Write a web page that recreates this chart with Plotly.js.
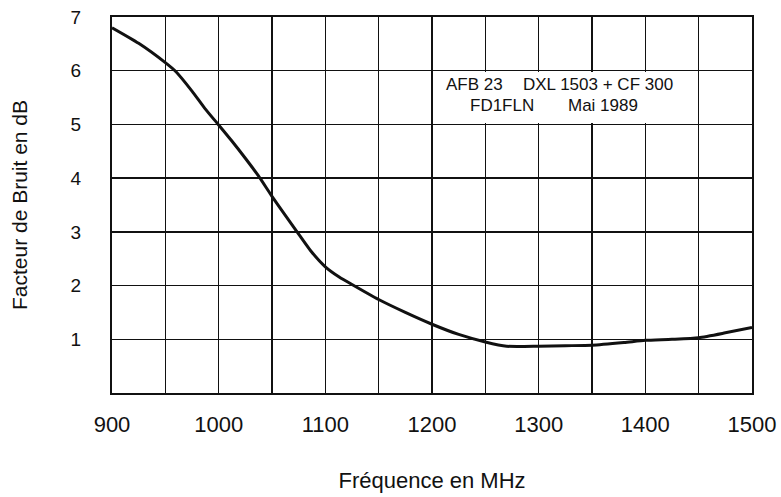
<!DOCTYPE html>
<html>
<head>
<meta charset="utf-8">
<script src="https://cdn.plot.ly/plotly-3.0.1.min.js"></script>
<style>html,body{margin:0;padding:0;background:#fff;}#chart{width:781px;height:497px;}</style>
</head>
<body>
<div id="chart"></div>
<script>
// Noise figure (dB) versus frequency (MHz)
const freqMHz = [900, 925, 950, 960, 975, 987, 1000, 1012, 1025, 1037, 1050, 1062, 1075, 1087, 1100, 1113, 1125, 1150, 1175, 1200, 1225, 1250, 1270, 1300, 1325, 1350, 1380, 1400, 1425, 1450, 1475, 1500];
const noiseFigureDb = [6.80, 6.51, 6.15, 5.98, 5.62, 5.30, 4.99, 4.70, 4.37, 4.05, 3.66, 3.32, 2.96, 2.63, 2.35, 2.16, 2.02, 1.74, 1.50, 1.28, 1.09, 0.95, 0.87, 0.87, 0.88, 0.89, 0.94, 0.98, 1.00, 1.03, 1.12, 1.22];

const xTickVals = [900, 1000, 1100, 1200, 1300, 1400, 1500];
const yTickVals = [1, 2, 3, 4, 5, 6, 7];

const xTitle = "Fréquence en MHz";
const yTitle = "Facteur de Bruit en dB";
const noteLine1a = "AFB 23";
const noteLine1b = "DXL 1503 + CF 300";
const noteLine2a = "FD1FLN";
const noteLine2b = "Mai 1989";

const FONT = "Liberation Sans, Arial, Helvetica, sans-serif";
const INK = "#111";

const trace = {
  x: freqMHz,
  y: noiseFigureDb,
  type: "scatter",
  mode: "lines",
  line: {color: INK, width: 3, shape: "spline", smoothing: 0.6},
  hoverinfo: "x+y",
  showlegend: false
};

const noteFont = {family: FONT, size: 17, color: INK};

const layout = {
  width: 781,
  height: 497,
  margin: {l: 112, r: 29, t: 17, b: 104},
  paper_bgcolor: "#fff",
  plot_bgcolor: "#fff",
  font: {family: FONT, color: INK},
  xaxis: {
    range: [900, 1500],
    tickvals: xTickVals,
    ticks: "",
    tickfont: {family: FONT, size: 22, color: INK},
    ticklabelstandoff: 11,
    showgrid: true,
    gridcolor: INK,
    gridwidth: 1.5,
    minor: {dtick: 50, showgrid: true, gridcolor: INK, gridwidth: 1.5},
    showline: true,
    linecolor: INK,
    linewidth: 2,
    mirror: true,
    zeroline: false,
    title: {text: xTitle, font: {family: FONT, size: 22, color: INK}, standoff: 36}
  },
  yaxis: {
    range: [0, 7],
    tickvals: yTickVals,
    ticks: "",
    tickfont: {family: FONT, size: 19, color: INK},
    ticklabelstandoff: 25,
    showgrid: true,
    gridcolor: INK,
    gridwidth: 1.5,
    showline: true,
    linecolor: INK,
    linewidth: 2,
    mirror: true,
    zeroline: false,
    title: {text: yTitle, font: {family: FONT, size: 21, color: INK}, standoff: 37}
  },
  shapes: [{
    type: "rect", xref: "x", yref: "y",
    x0: 1201.5, x1: 1448.5, y0: 5.025, y1: 5.975,
    fillcolor: "#fff", line: {width: 0}, layer: "between"
  }],
  annotations: [
    {x: 1240, y: 5.75, xref: "x", yref: "y", text: noteLine1a, showarrow: false, font: noteFont},
    {x: 1356, y: 5.75, xref: "x", yref: "y", text: noteLine1b, showarrow: false, font: noteFont},
    {x: 1266, y: 5.36, xref: "x", yref: "y", text: noteLine2a, showarrow: false, font: noteFont},
    {x: 1360, y: 5.36, xref: "x", yref: "y", text: noteLine2b, showarrow: false, font: noteFont}
  ]
};

Plotly.newPlot("chart", [trace], layout, {displayModeBar: false, staticPlot: true});
</script>
</body>
</html>
